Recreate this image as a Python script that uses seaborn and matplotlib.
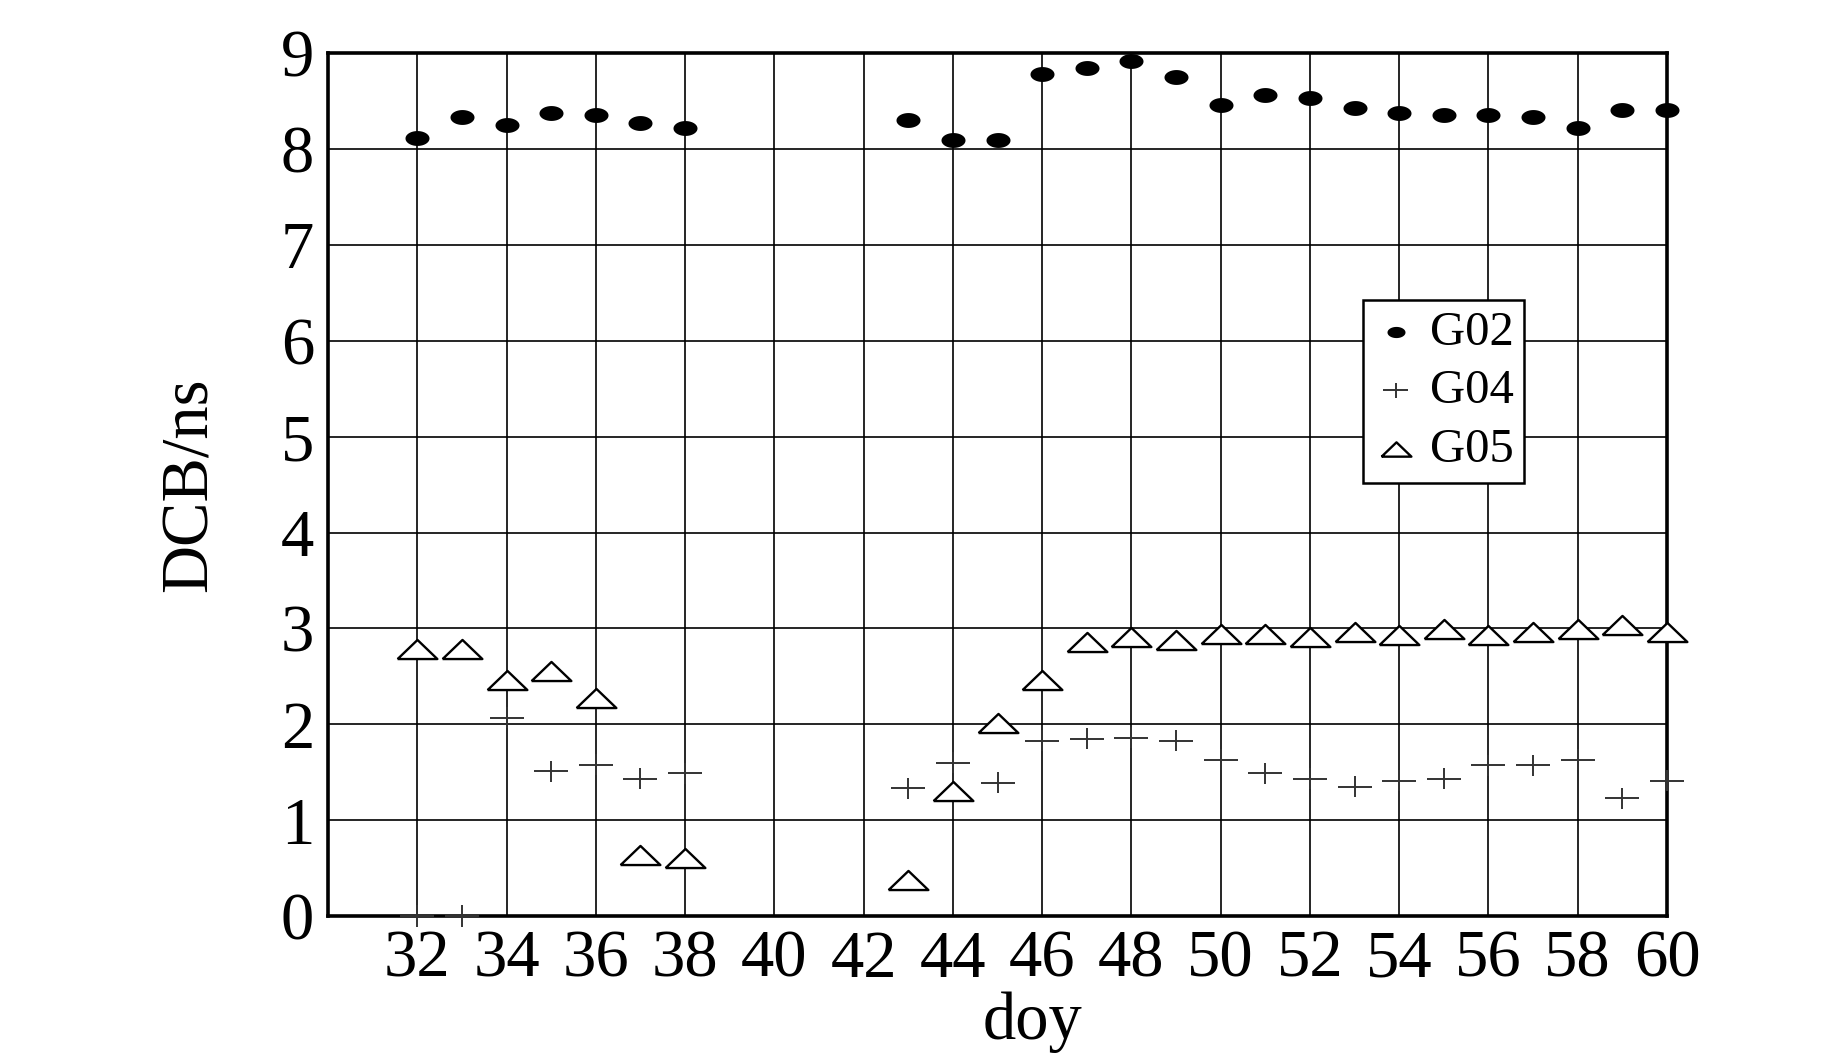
"""
DCB time series for three GPS satellites (G02, G04, G05) over day-of-year 32-60.
Output: out.png
"""

import matplotlib
matplotlib.use("Agg")
import matplotlib.pyplot as plt
from matplotlib.path import Path
import numpy as np
import pandas as pd
import seaborn as sns

OUT_PNG = "out.png"

# ── Data ──────────────────────────────────────────────────────────────────────
DOY = [32, 33, 34, 35, 36, 37, 38, 43, 44, 45, 46, 47, 48, 49,
       50, 51, 52, 53, 54, 55, 56, 57, 58, 59, 60]

G02 = [8.12, 8.33, 8.25, 8.38, 8.35, 8.27, 8.22, 8.30, 8.09, 8.09, 8.78, 8.85,
       8.92, 8.75, 8.46, 8.56, 8.53, 8.43, 8.38, 8.35, 8.35, 8.33, 8.22, 8.41,
       8.41]

G04 = [0.00, 0.00, 2.07, 1.51, 1.58, 1.43, 1.49, 1.33, 1.60, 1.39, 1.83, 1.85,
       1.86, 1.83, 1.63, 1.49, 1.43, 1.35, 1.41, 1.43, 1.57, 1.57, 1.63, 1.23,
       1.41]

G05 = [2.78, 2.78, 2.46, 2.56, 2.27, 0.64, 0.61, 0.38, 1.30, 2.01, 2.46, 2.86,
       2.91, 2.875, 2.94, 2.94, 2.91, 2.96, 2.93, 2.99, 2.93, 2.96, 2.99, 3.04,
       2.96]

X_TICKS = list(range(32, 61, 2))
Y_TICKS = list(range(0, 10))


def main():
    df = pd.DataFrame({"doy": DOY, "G02": G02, "G04": G04, "G05": G05})

    sns.set_style("white")
    plt.rcParams["font.family"] = ["Liberation Serif", "DejaVu Serif"]
    for key in ("text.color", "axes.labelcolor", "xtick.color", "ytick.color"):
        plt.rcParams[key] = "black"

    fig = plt.figure(figsize=(18.43, 10.63), dpi=100)
    ax = fig.add_axes([0.178, 0.1383, 0.7265, 0.8117])

    # marker shapes: squat ellipse, wide plus, flat triangle
    t = np.linspace(0, 2 * np.pi, 40)
    ellipse = np.column_stack([np.cos(t), 0.62 * np.sin(t)])
    plus = Path([(-1, 0), (1, 0), (0, -0.62), (0, 0.62)],
                [Path.MOVETO, Path.LINETO, Path.MOVETO, Path.LINETO])
    tri = [(-1, -0.48), (1, -0.48), (0, 0.48), (-1, -0.48)]

    sns.scatterplot(data=df, x="doy", y="G02", marker=ellipse, s=300,
                    color="black", edgecolor="black", linewidth=0,
                    label="G02", ax=ax, zorder=3, clip_on=False)
    sns.scatterplot(data=df, x="doy", y="G04", marker=plus, s=600,
                    color="#333333", facecolor="none", edgecolor="#333333",
                    linewidth=1.4, label="G04", ax=ax, zorder=3, clip_on=False)
    sns.scatterplot(data=df, x="doy", y="G05", marker=tri, s=820,
                    color="black", facecolor="white", edgecolor="black",
                    linewidth=1.7, label="G05", ax=ax, zorder=4, clip_on=False)

    ax.set_xlim(30, 60)
    ax.set_ylim(0, 9)
    ax.set_xticks(X_TICKS)
    ax.set_yticks(Y_TICKS)
    ax.tick_params(length=0, labelsize=48, pad=10)
    ax.grid(True, color="black", linewidth=1.2)
    ax.set_axisbelow(True)

    for spine in ax.spines.values():
        spine.set_visible(True)
        spine.set_color("black")
        spine.set_linewidth(2.6)

    ax.set_xlabel("doy", fontsize=48)
    ax.set_ylabel("DCB/ns", fontsize=48)
    ax.xaxis.set_label_coords(0.526, -0.088)
    ax.yaxis.set_label_coords(-0.080, 0.5)

    leg = ax.legend(loc="upper left", bbox_to_anchor=(0.773, 0.714),
                    borderaxespad=0, fontsize=35, frameon=True,
                    fancybox=False, shadow=False, handlelength=0.9,
                    handletextpad=0.25, labelspacing=0.3, borderpad=0.22,
                    markerscale=0.75)
    leg.get_frame().set_edgecolor("black")
    leg.get_frame().set_linewidth(1.8)
    leg.get_frame().set_alpha(1)

    fig.savefig(OUT_PNG, dpi=100)
    plt.close(fig)


if __name__ == "__main__":
    main()
